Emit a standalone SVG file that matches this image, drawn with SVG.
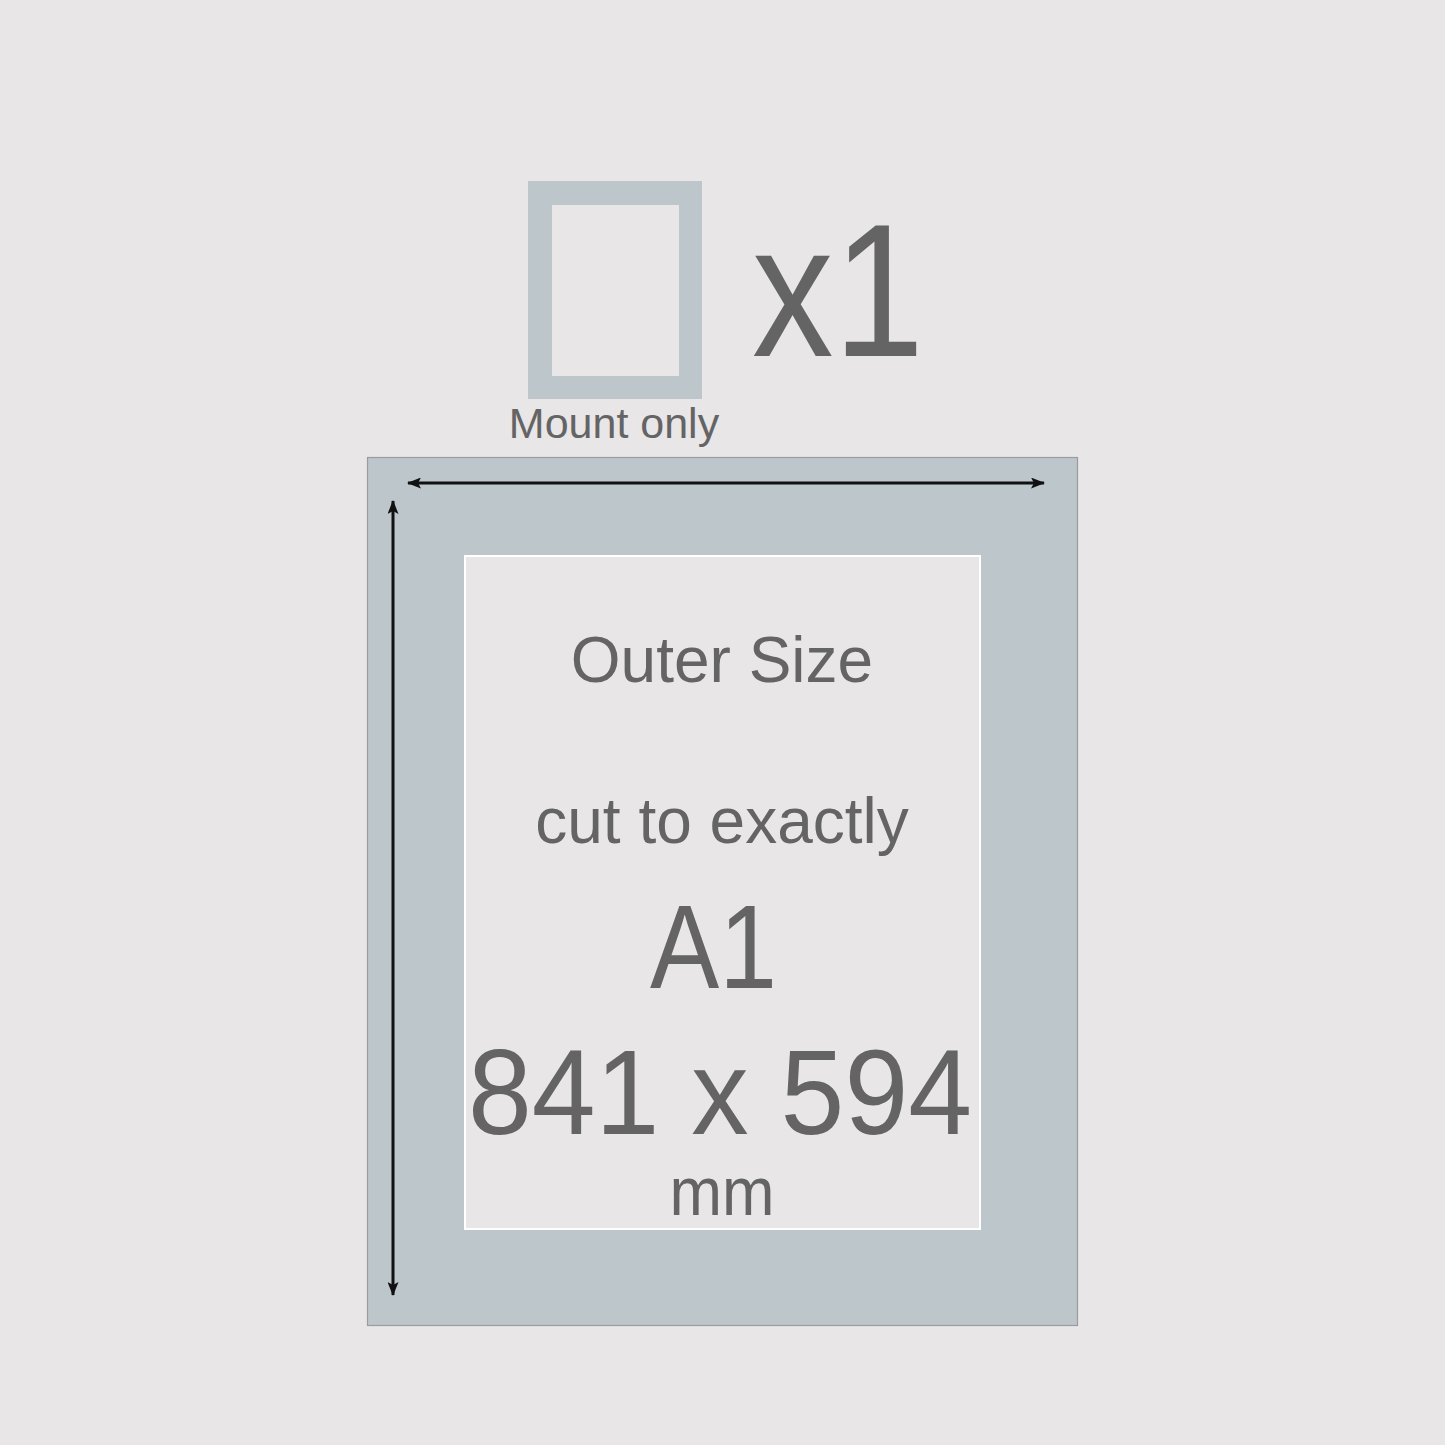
<svg xmlns="http://www.w3.org/2000/svg" width="1445" height="1445" viewBox="0 0 1445 1445">
  <style>
    .mount { fill: #bdc6cb; }
    .window { fill: #e8e6e7; }
    .label { font-family: "Liberation Sans", Arial, sans-serif; fill: #646464; text-anchor: middle; }
    .dim { stroke: #111; stroke-width: 3; fill: none; }
  </style>
  <defs>
    <marker id="ah" viewBox="0 0 14 11" refX="13" refY="5.5" markerWidth="14" markerHeight="11" markerUnits="userSpaceOnUse" orient="auto-start-reverse">
      <path d="M0,0 L14,5.5 L0,11 L3,5.5 Z" fill="#111"/>
    </marker>
  </defs>
  <rect width="1445" height="1445" fill="#e8e6e7"/>

  <g id="small-mount">
    <rect class="mount" x="528" y="181" width="174" height="218"/>
    <rect class="window" x="552" y="205" width="127" height="171"/>
    <text class="label" x="614" y="438" font-size="43">Mount only</text>
  </g>

  <g id="quantity">
    <text class="label" x="752" y="356" font-size="190" style="text-anchor:start" textLength="172" lengthAdjust="spacingAndGlyphs">x1</text>
  </g>

  <g id="large-mount">
    <rect class="mount" x="367.5" y="457.5" width="710" height="868" stroke="#9a9c9e" stroke-width="1.2"/>
    <rect x="464" y="555" width="517" height="675" fill="#ffffff"/>
    <rect class="window" x="466" y="557" width="513" height="671"/>
    <text class="label" x="722" y="682" font-size="64">Outer Size</text>
    <text class="label" x="722" y="843" font-size="64">cut to exactly</text>
    <text class="label" x="650" y="988" font-size="118" style="text-anchor:start" textLength="127" lengthAdjust="spacingAndGlyphs">A1</text>
    <text class="label" x="468" y="1134" font-size="120" style="text-anchor:start" textLength="504" lengthAdjust="spacingAndGlyphs">841 x 594</text>
    <text class="label" x="722" y="1215" font-size="68" textLength="105" lengthAdjust="spacingAndGlyphs">mm</text>
  </g>

  <g id="connectors">
    <line class="dim" x1="408" y1="483" x2="1044" y2="483" marker-start="url(#ah)" marker-end="url(#ah)"/>
    <line class="dim" x1="393" y1="501" x2="393" y2="1295" marker-start="url(#ah)" marker-end="url(#ah)"/>
  </g>
</svg>
